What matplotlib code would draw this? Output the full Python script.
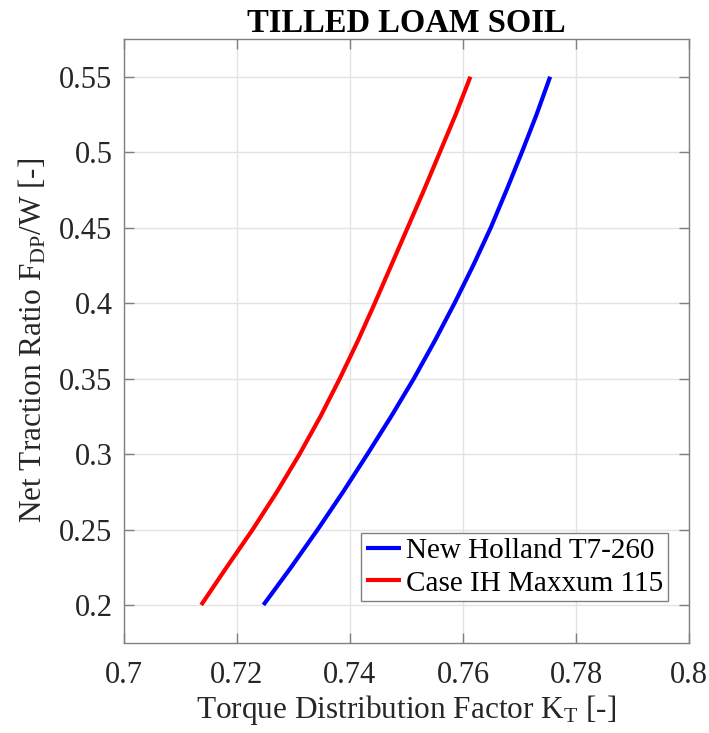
import matplotlib
matplotlib.use("Agg")
import matplotlib.pyplot as plt

plt.rcParams['font.family'] = ['Liberation Serif', 'DejaVu Serif']
plt.rcParams['mathtext.fontset'] = 'custom'
plt.rcParams['mathtext.rm'] = 'Liberation Serif'
plt.rcParams['mathtext.default'] = 'regular'

# Net traction ratio levels and the torque distribution factor for each tractor
traction_ratio = [0.200, 0.225, 0.250, 0.275, 0.300, 0.325, 0.350, 0.375,
                  0.400, 0.425, 0.450, 0.475, 0.500, 0.525, 0.550]
kt_new_holland = [0.7247, 0.7296, 0.7343, 0.7388, 0.7431, 0.7473, 0.7513, 0.7550,
                  0.7585, 0.7618, 0.7649, 0.7677, 0.7704, 0.7730, 0.7754]
kt_case_ih = [0.7137, 0.7182, 0.7228, 0.7271, 0.7311, 0.7348, 0.7382, 0.7414,
              0.7444, 0.7473, 0.7502, 0.7531, 0.7559, 0.7587, 0.7613]

series_names = ["New Holland T7-260", "Case IH Maxxum 115"]
x_ticks = [0.70, 0.72, 0.74, 0.76, 0.78, 0.80]
x_tick_labels = ["0.7", "0.72", "0.74", "0.76", "0.78", "0.8"]
y_ticks = [0.20, 0.25, 0.30, 0.35, 0.40, 0.45, 0.50, 0.55]
y_tick_labels = ["0.2", "0.25", "0.3", "0.35", "0.4", "0.45", "0.5", "0.55"]

fig = plt.figure(figsize=(7.09, 7.33), dpi=100)
ax = fig.add_axes([0.1745, 0.1232, 0.9722 - 0.1745, 0.9468 - 0.1232])

ax.plot(kt_new_holland, traction_ratio, color=(0, 0, 1), lw=3.0,
        label=series_names[0], solid_capstyle='butt', solid_joinstyle='round')
ax.plot(kt_case_ih, traction_ratio, color=(1, 0, 0), lw=3.0,
        label=series_names[1], solid_capstyle='butt', solid_joinstyle='round')

ax.set_xlim(0.70, 0.80)
ax.set_ylim(0.175, 0.575)
ax.set_xticks(x_ticks)
ax.set_xticklabels(x_tick_labels)
ax.set_yticks(y_ticks)
ax.set_yticklabels(y_tick_labels)

edge = '#808080'
for s in ax.spines.values():
    s.set_color(edge)
    s.set_linewidth(1.0)
ax.tick_params(direction='in', length=7, width=1.0, color=edge,
               top=True, right=True, labelsize=22, labelcolor='#262626')
ax.tick_params(axis='y', pad=8)
ax.tick_params(axis='x', pad=13)
ax.grid(True, color='#e3e3e3', lw=1.0)
ax.set_axisbelow(True)

ax.set_xlabel('Torque Distribution Factor K$_{T}$ [-]', fontsize=22.5,
              color='#262626', labelpad=2)
ax.set_ylabel('Net Traction Ratio F$_{DP}$/W [-]', fontsize=22.5,
              color='#262626', labelpad=8)
ax.set_title('TILLED LOAM SOIL', fontsize=23.5, fontweight='bold', pad=5)

leg = ax.legend(loc='lower right', bbox_to_anchor=(0.9623, 0.069), fontsize=21,
                frameon=True, fancybox=False, framealpha=1, edgecolor=edge,
                handlelength=1.2, handletextpad=0.2, borderpad=0.15,
                labelspacing=0.22, borderaxespad=0)
leg.get_frame().set_linewidth(1.0)

fig.savefig('out.png', dpi=100)
